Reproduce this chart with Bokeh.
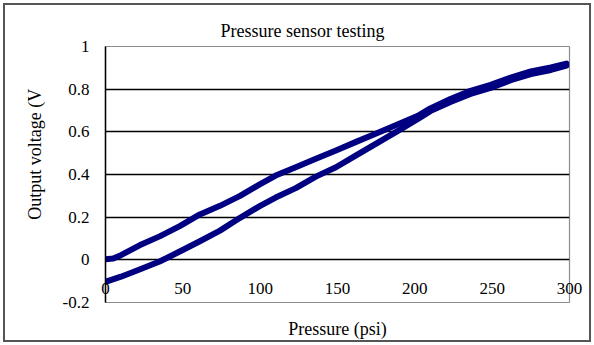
import math
from bokeh.plotting import figure
from bokeh.models import Range1d, FixedTicker
from bokeh.embed import file_html
from bokeh.resources import INLINE

# ---- texts ----
title_text = "Pressure sensor testing"
x_label = "Pressure (psi)"
y_label = "Output voltage (V"

# ---- ticks ----
x_ticks = [0, 50, 100, 150, 200, 250, 300]
y_ticks = [-0.2, 0, 0.2, 0.4, 0.6, 0.8, 1]
y_tick_labels = ["-0.2", "0", "0.2", "0.4", "0.6", "0.8", "1"]
grid_levels = [0, 0.2, 0.4, 0.6, 0.8]

# ---- data: loading branch (pressure rising) ----
load_p = [0, 10, 22, 35, 48, 61, 74, 87, 100, 110, 123, 136, 149, 162, 175,
          188, 202, 210, 223, 236, 249, 262, 275, 288, 298]
load_v = [-0.103, -0.079, -0.045, -0.008, 0.039, 0.087, 0.137, 0.197, 0.253,
          0.292, 0.336, 0.390, 0.434, 0.490, 0.545, 0.600, 0.660, 0.697, 0.740,
          0.778, 0.806, 0.842, 0.871, 0.890, 0.910]

# ---- data: unloading branch (pressure falling) ----
unload_p = [298, 288, 275, 262, 249, 236, 223, 210, 202, 188, 175, 162, 149,
            136, 123, 110, 100, 87, 74, 61, 48, 35, 22, 10, 5, 0]
unload_v = [0.920, 0.902, 0.883, 0.854, 0.820, 0.792, 0.754, 0.710, 0.675,
            0.632, 0.592, 0.553, 0.513, 0.474, 0.434, 0.395, 0.355, 0.300,
            0.253, 0.213, 0.158, 0.110, 0.068, 0.022, 0.006, 0.003]

SERIF = "Liberation Serif"
NAVY = "#000080"

p = figure(width=594, height=345, x_range=Range1d(0, 300), y_range=Range1d(-0.2, 1),
           output_backend="svg", toolbar_location=None, title=title_text,
           min_border_left=105, min_border_right=25, min_border_top=46,
           min_border_bottom=43)
p.background_fill_color = "white"
p.border_fill_alpha = 0
p.styles = {"background-color": "white",
            "box-shadow": "inset 0 0 0 3px white, inset 0 0 0 5px #555555"}
p.outline_line_color = "#8c8c8c"
p.outline_line_width = 1.2

# title
p.title.align = "left"
p.title.offset = 115
p.title.standoff = 11
p.title.text_font = SERIF
p.title.text_font_size = "18px"
p.title.text_font_style = "normal"
p.title.text_color = "black"

# grid
p.xgrid.visible = False
p.ygrid.ticker = FixedTicker(ticks=grid_levels)
p.ygrid.grid_line_color = "black"
p.ygrid.grid_line_width = 1.3

# y axis
p.yaxis.ticker = FixedTicker(ticks=y_ticks)
p.yaxis.major_label_overrides = {t: l for t, l in zip(y_ticks, y_tick_labels)}
p.yaxis.major_tick_out = 0
p.yaxis.major_tick_in = 0
p.yaxis.minor_tick_out = 0
p.yaxis.minor_tick_in = 0
p.yaxis.axis_line_color = "black"
p.yaxis.axis_line_width = 1.5
p.yaxis.major_label_standoff = 16
p.yaxis.major_label_text_font = SERIF
p.yaxis.major_label_text_font_size = "17px"
p.yaxis.major_label_text_color = "black"
p.yaxis.axis_label = "\u00a0" * 9 + y_label
p.yaxis.axis_label_standoff = 15
p.yaxis.axis_label_text_font = SERIF
p.yaxis.axis_label_text_font_size = "18px"
p.yaxis.axis_label_text_font_style = "normal"
p.yaxis.axis_label_text_color = "black"

# x axis (labels lifted into the frame like the Excel original)
p.xaxis.ticker = FixedTicker(ticks=x_ticks)
p.xaxis.major_tick_out = 0
p.xaxis.major_tick_in = 0
p.xaxis.minor_tick_out = 0
p.xaxis.minor_tick_in = 0
p.xaxis.axis_line_color = None
p.xaxis.major_label_standoff = -20
p.xaxis.major_label_text_font = SERIF
p.xaxis.major_label_text_font_size = "17px"
p.xaxis.major_label_text_color = "black"
p.xaxis.axis_label = x_label
p.xaxis.axis_label_standoff = 22
p.xaxis.axis_label_text_font = SERIF
p.xaxis.axis_label_text_font_size = "18px"
p.xaxis.axis_label_text_font_style = "normal"
p.xaxis.axis_label_text_color = "black"

# data
p.line(load_p, load_v, line_color=NAVY, line_width=6, line_cap="round", line_join="round")
p.line(unload_p, unload_v, line_color=NAVY, line_width=6, line_cap="round", line_join="round")

open("out.html", "w").write(file_html(p, INLINE))
